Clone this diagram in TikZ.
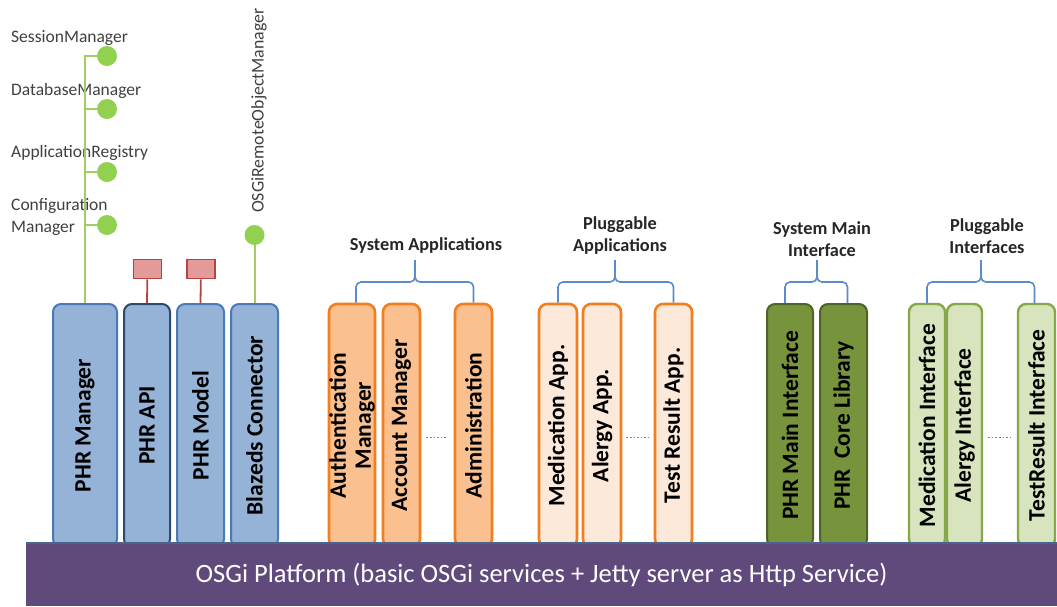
\documentclass[tikz,border=0pt]{standalone}
\usepackage{fontspec}
\setmainfont{Carlito}
\usetikzlibrary{calc}
\definecolor{bluefill}{HTML}{95B3D7}
\definecolor{blueline}{HTML}{4A7AB5}
\definecolor{bluedark}{HTML}{2A4A70}
\definecolor{orline}{HTML}{F27E1E}
\definecolor{orfill}{HTML}{FAC090}
\definecolor{orlight}{HTML}{FDE9D9}
\definecolor{dgfill}{HTML}{77933C}
\definecolor{dgline}{HTML}{4F6228}
\definecolor{lgfill}{HTML}{D7E4BD}
\definecolor{lgline}{HTML}{86A84A}
\definecolor{barfill}{HTML}{604A7B}
\definecolor{barline}{HTML}{4A6490}
\definecolor{dot}{HTML}{92D050}
\definecolor{stem}{HTML}{A3CC66}
\definecolor{redfill}{HTML}{E59A9A}
\definecolor{redline}{HTML}{B24444}
\definecolor{bracec}{HTML}{5B8BC8}
\definecolor{labgray}{HTML}{404040}
\begin{document}
\begin{tikzpicture}[x=1pt,y=-1pt,
  col/.style={rectangle, rounded corners=8pt, rotate=90, minimum height=#1,
    minimum width=243pt, inner sep=0pt, align=center, line width=2pt,
    font=\bfseries\fontsize{23.5}{25}\selectfont},
  bluecol/.style={col=#1, draw=blueline, fill=bluefill},
  syscol/.style={col=#1, draw=orline, fill=orfill, line width=2.6pt},
  plugcol/.style={col=#1, draw=orline, fill=orlight, line width=2.6pt},
  maincol/.style={col=#1, draw=dgline, fill=dgfill},
  lgcol/.style={col=#1, draw=lgline, fill=lgfill, line width=2.4pt},
  greendot/.style={circle, fill=dot, minimum size=20pt, inner sep=0pt},
  redsq/.style={rectangle, draw=redline, fill=redfill, line width=1.8pt,
    minimum width=28pt, minimum height=19pt, inner sep=0pt},
  stemline/.style={draw=stem, line width=2pt},
  redstem/.style={draw=redline, line width=1.8pt},
  brace/.style={draw=bracec, line width=1.6pt, rounded corners=5pt},
  grp/.style={font=\bfseries\fontsize{18.3}{22}\selectfont, text=black!85, align=center, inner sep=0pt},
  side/.style={font=\fontsize{17.5}{22}\selectfont, text=labgray, align=left, anchor=west, inner sep=0pt},
  dots/.style={draw=bracec, dotted, line width=1.6pt}
]
\useasboundingbox (0,0) rectangle (1057,606);

% columns
\node[bluecol=64pt] (pm) at (85,425.5) {PHR Manager};
\node[bluecol=46pt, draw=bluedark] (api) at (147,425.5) {PHR API};
\node[bluecol=47pt] (mod) at (200.5,425.5) {PHR Model};
\node[bluecol=47pt] (blz) at (254.5,425.5) {Blazeds Connector};

\node[syscol=46pt] (auth) at (352,425.5) {Authentication\\Manager};
\node[syscol=37pt] (acc) at (401.5,425.5) {Account Manager};
\node[syscol=37pt] (adm) at (473.5,425.5) {Administration};

\node[plugcol=38pt] (med) at (558,425.5) {Medication App.};
\node[plugcol=38pt] (alg) at (602,425.5) {Alergy App.};
\node[plugcol=37pt] (tst) at (673.5,425.5) {Test Result App.};

\node[maincol=46pt] (pmi) at (790,425.5) {PHR Main Interface};
\node[maincol=47pt] (pcl) at (843.5,425.5) {PHR\ \ Core Library};

\node[lgcol=36pt] (mif) at (927,425.5) {Medication Interface};
\node[lgcol=35pt] (aif) at (964.5,425.5) {Alergy Interface};
\node[lgcol=37pt] (tif) at (1036.5,425.5) {TestResult Interface};

% dotted gaps
\draw[dots] ([xshift=5pt,yshift=-12pt]acc.south) -- ([xshift=-6pt,yshift=-12pt]adm.north);
\draw[dots] ([xshift=4pt,yshift=-12pt]alg.south) -- ([xshift=-5pt,yshift=-12pt]tst.north);
\draw[dots] ([xshift=5pt,yshift=-12pt]aif.south) -- ([xshift=-6pt,yshift=-12pt]tif.north);

% platform bar
\node[rectangle, fill=barfill, minimum width=1031pt, minimum height=63pt, inner sep=0pt,
  text=white, font=\fontsize{26.5}{28}\selectfont] (osgi) at (541.5,574.5)
  {OSGi Platform (basic OSGi services + Jetty server as Http Service)};
\draw[draw=barline, line width=1.5pt] (osgi.north west) -- (osgi.north east);

% left tree of services
\node[greendot] (c1) at (107,56) {};
\node[greendot] (c2) at (107,109) {};
\node[greendot] (c3) at (107,172) {};
\node[greendot] (c4) at (107,225) {};
\node[side] (l1) at (11,38) {SessionManager};
\node[side] (l2) at (11,91) {DatabaseManager};
\node[side] (l3) at (11,153) {ApplicationRegistry};
\node[side] (l4) at (11,217) {Configuration\\Manager};
\draw[stemline] (pm.east) |- (c1);
\draw[stemline] (pm.east |- c2) -- (c2);
\draw[stemline] (pm.east |- c3) -- (c3);
\draw[stemline] (pm.east |- c4) -- (c4);

% red interfaces
\node[redsq] (r1) at (147.5,269) {};
\node[redsq] (r2) at (201,269) {};
\draw[redstem] (api.east) -- (r1);
\draw[redstem] (mod.east) -- (r2);

% remote object manager
\node[greendot] (c5) at (254.5,235) {};
\draw[stemline] (blz.east) -- (c5);
\node[font=\fontsize{17.8}{20}\selectfont, text=labgray, rotate=90, anchor=west, inner sep=0pt] (osgirm) at (259,213) {OSGiRemoteObjectManager};

% group labels and braces
\node[grp] (gsa) at (426,245) {System Applications};
\node[grp] (gpa) at (620,236) {Pluggable\\Applications};
\node[grp] (gsm) at (822,239) {System Main\\Interface};
\node[grp] (gpi) at (987,236) {Pluggable\\Interfaces};

\coordinate (bsa) at (415,260);
\coordinate (bpa) at (615,260);
\coordinate (bsm) at (817,260);
\coordinate (bpi) at (981,260);

\draw[brace] ([xshift=4pt]auth.east) |- ([yshift=-22pt]bsa) -- (bsa);
\draw[brace] (adm.east) |- ([yshift=-22pt]bsa) -- (bsa);
\draw[brace] (med.east) |- ([yshift=-22pt]bpa) -- (bpa);
\draw[brace] (tst.east) |- ([yshift=-22pt]bpa) -- (bpa);
\draw[brace] ([xshift=-5pt]pmi.east) |- ([yshift=-22pt]bsm) -- (bsm);
\draw[brace] ([xshift=4pt]pcl.east) |- ([yshift=-22pt]bsm) -- (bsm);
\draw[brace] (mif.east) |- ([yshift=-22pt]bpi) -- (bpi);
\draw[brace] ([xshift=-2pt]tif.east) |- ([yshift=-22pt]bpi) -- (bpi);
\end{tikzpicture}
\end{document}
